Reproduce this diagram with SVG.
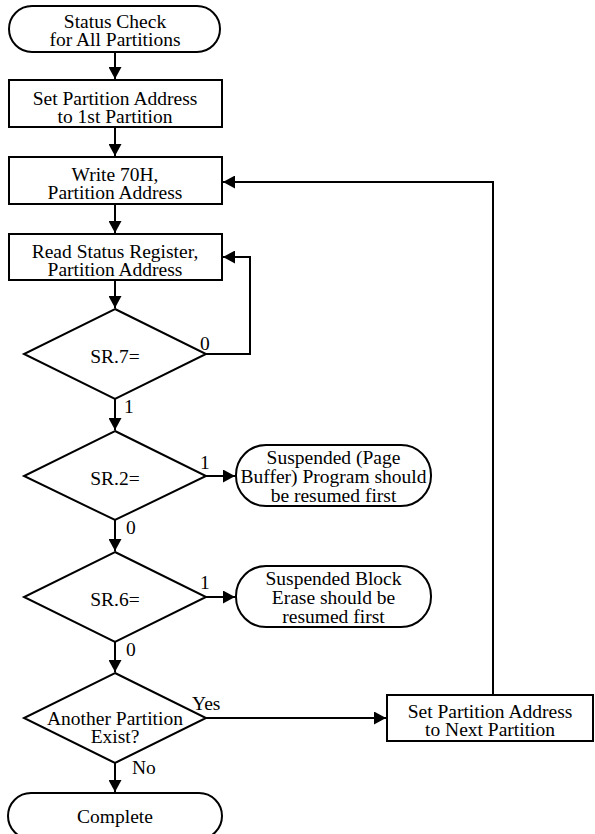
<svg xmlns="http://www.w3.org/2000/svg" width="595" height="834" viewBox="0 0 595 834">
<style>
  .shape { fill: #fff; stroke: #000; stroke-width: 2; }
  .conn { fill: none; stroke: #000; stroke-width: 2; }
  text { font-family: 'Liberation Serif', 'DejaVu Serif', serif; font-size: 19.5px; fill: #000; }
  .c { text-anchor: middle; }
</style>
<defs>
  <marker id="ah" markerWidth="13" markerHeight="13" refX="12" refY="6.5" orient="auto" markerUnits="userSpaceOnUse">
    <path d="M0,0 L12,6.5 L0,13 z" fill="#000"/>
  </marker>
</defs>
<rect width="595" height="834" fill="#fff"/>

<g id="connectors" font-family="Liberation Serif, serif">
  <path class="conn" d="M115,52 V79" marker-end="url(#ah)"/>
  <path class="conn" d="M115,127 V156" marker-end="url(#ah)"/>
  <path class="conn" d="M115,204 V233" marker-end="url(#ah)"/>
  <path class="conn" d="M115,280 V308" marker-end="url(#ah)"/>
  <path class="conn" d="M206,354 H250 V257 H223" marker-end="url(#ah)"/>
  <path class="conn" d="M115,399 V430" marker-end="url(#ah)"/>
  <path class="conn" d="M206,476 H235" marker-end="url(#ah)"/>
  <path class="conn" d="M115,520 V551" marker-end="url(#ah)"/>
  <path class="conn" d="M206,597 H235" marker-end="url(#ah)"/>
  <path class="conn" d="M115,642 V672" marker-end="url(#ah)"/>
  <path class="conn" d="M206,718 H386" marker-end="url(#ah)"/>
  <path class="conn" d="M115,763 V792" marker-end="url(#ah)"/>
  <path class="conn" d="M493,695 V182 H223" marker-end="url(#ah)"/>
  <text x="200" y="350">0</text>
  <text x="124" y="413">1</text>
  <text x="200" y="469">1</text>
  <text x="126" y="534">0</text>
  <text x="200" y="589">1</text>
  <text x="126" y="656">0</text>
  <text x="192" y="710">Yes</text>
  <text x="132" y="774">No</text>
</g>

<g id="start">
  <rect class="shape" x="9" y="6" width="211" height="46" rx="23"/>
  <text class="c" x="115" y="28">Status Check</text>
  <text class="c" x="115" y="46">for All Partitions</text>
</g>
<g id="set-first">
  <rect class="shape" x="9" y="80" width="213" height="47"/>
  <text class="c" x="115" y="105">Set Partition Address</text>
  <text class="c" x="115" y="123">to 1st Partition</text>
</g>
<g id="write70h">
  <rect class="shape" x="9" y="157" width="213" height="47"/>
  <text class="c" x="115" y="181">Write 70H,</text>
  <text class="c" x="115" y="199">Partition Address</text>
</g>
<g id="read-sr">
  <rect class="shape" x="9" y="234" width="213" height="46"/>
  <text class="c" x="115" y="258">Read Status Register,</text>
  <text class="c" x="115" y="276">Partition Address</text>
</g>
<g id="sr7">
  <polygon class="shape" points="115,309 206,354 115,399 24,354"/>
  <text class="c" x="115" y="363">SR.7=</text>
</g>
<g id="sr2">
  <polygon class="shape" points="115,431 206,476 115,520 24,476"/>
  <text class="c" x="115" y="485">SR.2=</text>
</g>
<g id="suspended-program">
  <rect class="shape" x="236" y="445" width="195" height="61" rx="30"/>
  <text class="c" x="333.5" y="464">Suspended (Page</text>
  <text class="c" x="333.5" y="483">Buffer) Program should</text>
  <text class="c" x="333.5" y="502">be resumed first</text>
</g>
<g id="sr6">
  <polygon class="shape" points="115,552 206,597 115,642 24,597"/>
  <text class="c" x="115" y="606">SR.6=</text>
</g>
<g id="suspended-erase">
  <rect class="shape" x="236" y="566" width="195" height="61" rx="30"/>
  <text class="c" x="333.5" y="585">Suspended Block</text>
  <text class="c" x="333.5" y="604">Erase should be</text>
  <text class="c" x="333.5" y="623">resumed first</text>
</g>
<g id="another">
  <polygon class="shape" points="115,673 206,718 115,763 24,718"/>
  <text class="c" x="115" y="725">Another Partition</text>
  <text class="c" x="115" y="743">Exist?</text>
</g>
<g id="set-next">
  <rect class="shape" x="387" y="695" width="206" height="46"/>
  <text class="c" x="490" y="718">Set Partition Address</text>
  <text class="c" x="490" y="736">to Next Partition</text>
</g>
<g id="complete">
  <rect class="shape" x="8" y="793" width="214" height="46" rx="23"/>
  <text class="c" x="115" y="823">Complete</text>
</g>
</svg>
